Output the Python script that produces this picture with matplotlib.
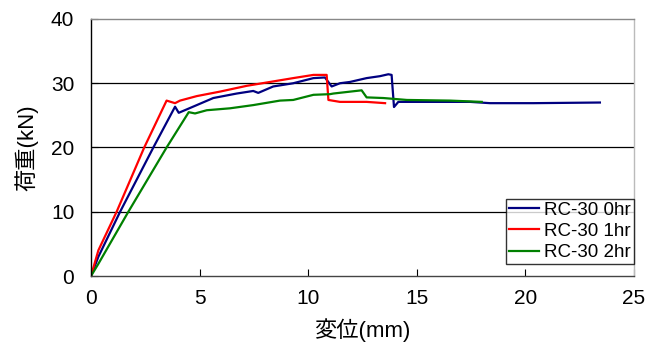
import matplotlib
matplotlib.use("Agg")
import matplotlib.pyplot as plt

plt.rcParams['font.family'] = ['Liberation Sans', 'Noto Sans CJK JP', 'DejaVu Sans']

# RC-30 0hr
x0 = [0, 0.34, 1.34, 2.87, 3.87, 4.04, 4.87, 5.63, 6.71, 7.47, 7.70, 8.39, 9.31, 10.24, 10.77,
      11.08, 11.46, 11.92, 12.69, 13.30, 13.69, 13.84, 13.95, 14.15, 15.0, 16.07, 17.45, 18.37,
      20.36, 23.43]
y0 = [0, 3.0, 10.0, 20.0, 26.35, 25.4, 26.6, 27.7, 28.4, 28.8, 28.5, 29.5, 30.0, 30.8, 30.9,
      29.5, 30.0, 30.2, 30.8, 31.1, 31.4, 31.3, 26.3, 27.1, 27.1, 27.1, 27.1, 26.9,
      26.9, 27.0]
# RC-30 1hr
x1 = [0, 0.34, 1.18, 2.45, 3.48, 3.87, 4.10, 4.87, 5.94, 7.17, 8.24, 9.31, 10.24, 10.85,
      10.93, 11.46, 12.69, 13.54]
y1 = [0, 4.0, 10.0, 20.0, 27.3, 26.9, 27.3, 28.0, 28.7, 29.6, 30.2, 30.8, 31.3, 31.3,
      27.4, 27.1, 27.1, 26.9]
# RC-30 2hr
x2 = [0, 0.34, 1.72, 3.48, 4.50, 4.79, 5.33, 6.40, 7.47, 8.70, 9.31, 10.24, 11.0, 11.16,
      12.46, 12.69, 13.46, 14.54, 16.53, 17.99]
y2 = [0, 1.9, 10.0, 20.0, 25.5, 25.3, 25.8, 26.1, 26.6, 27.3, 27.4, 28.2, 28.3, 28.4,
      28.9, 27.8, 27.7, 27.4, 27.3, 27.1]

labels = ['RC-30 0hr', 'RC-30 1hr', 'RC-30 2hr']
colors = ['#000080', '#FF0000', '#008000']
xticks = [0, 5, 10, 15, 20, 25]
yticks = [0, 10, 20, 30, 40]

fig = plt.figure(figsize=(6.59, 3.58), dpi=100)
ax = fig.add_axes([91/659, 1-276/358, (634-91)/659, (276-19)/358])

for xs, ys, lab, c in zip([x0, x1, x2], [y0, y1, y2], labels, colors):
    ax.plot(xs, ys, color=c, lw=1.6, label=lab)

ax.set_xlim(0, 25)
ax.set_ylim(0, 40)
ax.set_xticks(xticks)
ax.set_yticks(yticks)
ax.tick_params(direction='in', length=5, labelsize=15, colors='black')
ax.tick_params(axis='y', pad=12)
ax.tick_params(axis='x', pad=9)
for v in [10, 20, 30]:
    ax.axhline(v, color='black', lw=0.9, zorder=0)
ax.spines['left'].set_color('black')
ax.spines['bottom'].set_color('#444444')
ax.spines['top'].set_color('#888888')
ax.spines['right'].set_color('#bbbbbb')
for s in ax.spines.values():
    s.set_linewidth(1.0)

ax.set_xlabel('変位(mm)', fontsize=16, labelpad=8)
ax.set_ylabel('荷重(kN)', fontsize=16, labelpad=9)

leg = ax.legend(loc='lower right', bbox_to_anchor=(1.0, 12/257), fontsize=13.5,
                frameon=True, fancybox=False, edgecolor='black', handlelength=1.6,
                handletextpad=0.3, borderpad=0.15, labelspacing=0.22, borderaxespad=0.0)
leg.get_frame().set_linewidth(1.0)

fig.savefig('out.png', dpi=100)
